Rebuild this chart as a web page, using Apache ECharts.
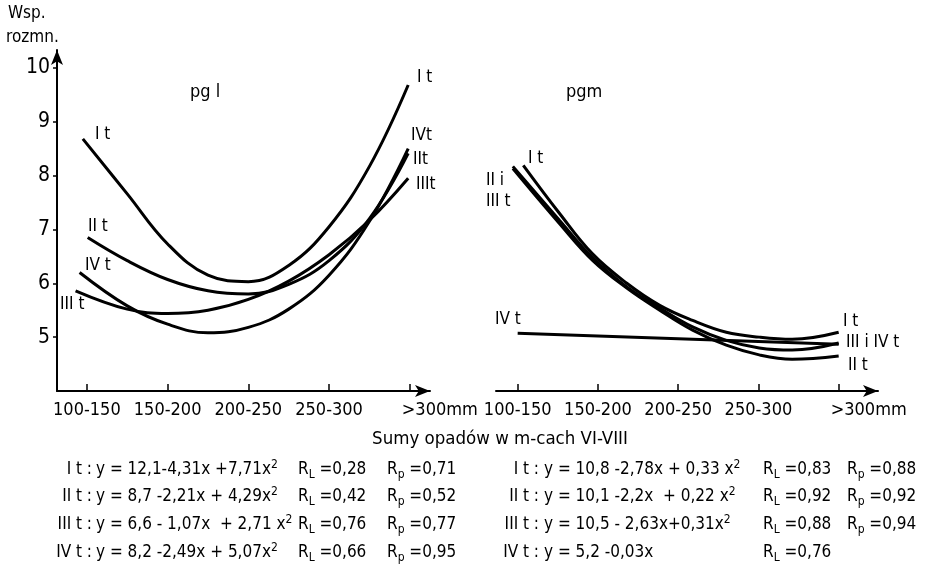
<!DOCTYPE html>
<html>
<head>
<meta charset="utf-8">
<script src="https://cdn.jsdelivr.net/npm/echarts@6/dist/echarts.min.js"></script>
<style>
  html, body { margin: 0; padding: 0; background: #fff; }
  #chart { width: 935px; height: 572px; }
</style>
</head>
<body>
<div id="chart"></div>
<script>
// rainfall classes on x, positions 0..4
const xLabels = ['100-150', '150-200', '200-250', '250-300', '>300mm']
const xTickPos = [0, 1, 2, 3, 4]
const yTicks = [5, 6, 7, 8, 9, 10]

// pg l curves, [class position, Wsp. rozmn.]
const pglI = [[-0.05, 8.68], [0.5, 7.66], [1.0, 6.73], [1.5, 6.15], [2.0, 6.03], [2.5, 6.33], [3.0, 7.05], [3.5, 8.17], [3.98, 9.68]]
const pglII = [[0.01, 6.85], [0.5, 6.42], [1.0, 6.07], [1.5, 5.86], [2.0, 5.8], [2.5, 5.98], [3.0, 6.42], [3.5, 7.2], [3.98, 8.41]]
const pglIII = [[-0.14, 5.86], [0.5, 5.52], [1.0, 5.44], [1.5, 5.5], [2.0, 5.7], [2.5, 6.04], [3.0, 6.53], [3.5, 7.17], [3.98, 7.95]]
const pglIV = [[-0.09, 6.2], [0.5, 5.58], [1.0, 5.24], [1.5, 5.08], [2.0, 5.18], [2.5, 5.52], [3.0, 6.15], [3.5, 7.15], [3.98, 8.5]]

// pgm curves
const pgmI = [[0.07, 8.19], [0.52, 7.3], [0.93, 6.55], [1.36, 6.0], [1.77, 5.59], [2.18, 5.31], [2.6, 5.09], [3.01, 5.0], [3.42, 4.96], [4.0, 5.09]]
const pgmII = [[-0.06, 8.13], [0.52, 7.11], [0.93, 6.43], [1.36, 5.91], [1.77, 5.5], [2.18, 5.13], [2.6, 4.85], [3.01, 4.67], [3.42, 4.59], [4.0, 4.65]]
const pgmIII = [[-0.06, 8.17], [0.52, 7.17], [0.93, 6.48], [1.36, 5.93], [1.77, 5.54], [2.18, 5.19], [2.6, 4.94], [3.01, 4.8], [3.42, 4.76], [4.0, 4.89]]
const pgmIV = [[0, 5.07], [4.0, 4.87]]

// regression equations under the chart
const eqNames = ['I t :', 'II t :', 'III t :', 'IV t :']
const eqLeft = ['y = 12,1-4,31x +7,71x', 'y = 8,7 -2,21x + 4,29x', 'y = 6,6 - 1,07x  + 2,71 x', 'y = 8,2 -2,49x + 5,07x']
const rlLeft = ['0,28', '0,42', '0,76', '0,66']
const rpLeft = ['0,71', '0,52', '0,77', '0,95']
const eqRight = ['y = 10,8 -2,78x + 0,33 x', 'y = 10,1 -2,2x  + 0,22 x', 'y = 10,5 - 2,63x+0,31x', 'y = 5,2 -0,03x']
const squaredRight = [true, true, true, false]
const rlRight = ['0,83', '0,92', '0,88', '0,76']
const rpRight = ['0,88', '0,92', '0,94', null]

const FONT = '"DejaVu Sans Condensed", "DejaVu Sans", sans-serif'

const chart = echarts.init(document.getElementById('chart'), null, { renderer: 'canvas' })

const axisLineStyle = { color: '#000', width: 2 }

function xAxisFor (gridIndex, min, max) {
  return {
    type: 'value',
    gridIndex,
    min,
    max,
    splitLine: { show: false },
    axisLine: {
      show: true,
      onZero: false,
      lineStyle: axisLineStyle,
      symbol: ['none', 'arrow'],
      symbolSize: [9, 15]
    },
    axisTick: {
      show: true,
      inside: true,
      length: 7,
      customValues: xTickPos,
      lineStyle: { color: '#000', width: 1.5 }
    },
    axisLabel: {
      customValues: xTickPos,
      color: '#000',
      fontFamily: FONT,
      fontSize: 18,
      margin: 10,
      formatter: (v) => {
        const label = xLabels[Math.round(v)]
        return v === 4 ? '{e|' + label + '}' : label
      },
      rich: {
        e: { fontFamily: FONT, fontSize: 18, padding: [0, 0, 0, 60] }
      }
    }
  }
}

function yAxisFor (gridIndex, show) {
  return {
    type: 'value',
    gridIndex,
    min: 4,
    max: 10.33,
    show,
    splitLine: { show: false },
    axisLine: {
      show: true,
      onZero: false,
      lineStyle: axisLineStyle,
      symbol: ['none', 'arrow'],
      symbolSize: [9, 15]
    },
    axisTick: {
      show: true,
      length: 4,
      customValues: yTicks,
      lineStyle: { color: '#000', width: 1.5 }
    },
    axisLabel: {
      customValues: yTicks,
      color: '#000',
      fontFamily: FONT,
      fontSize: 21,
      margin: 7
    }
  }
}

function curve (data, xAxisIndex) {
  return {
    type: 'line',
    xAxisIndex,
    yAxisIndex: xAxisIndex,
    data,
    smooth: 0.4,
    showSymbol: false,
    silent: true,
    lineStyle: { color: '#000', width: 3 }
  }
}

function txt (x, y, text, extra) {
  return {
    type: 'text',
    x,
    y,
    silent: true,
    style: Object.assign({
      text,
      fill: '#000',
      fontFamily: FONT,
      fontSize: 17,
      align: 'left',
      verticalAlign: 'middle'
    }, extra || {})
  }
}

const eqRich = {
  sup: { fontFamily: FONT, fontSize: 12, lineHeight: 11, verticalAlign: 'top' },
  sub: { fontFamily: FONT, fontSize: 12, lineHeight: 11, verticalAlign: 'bottom' }
}
const eqStyle = { lineHeight: 22, rich: eqRich }

const graphics = [
  txt(8, 14, 'Wsp.', { fontSize: 17 }),
  txt(6, 38, 'rozmn.', { fontSize: 17 }),
  txt(190, 92, 'pg l', { fontSize: 18 }),
  txt(566, 92, 'pgm', { fontSize: 18 }),
  // pg l curve names
  txt(417, 78, 'I t'),
  txt(95, 135, 'I t'),
  txt(88, 227, 'II t'),
  txt(85, 266, 'IV t'),
  txt(60, 305, 'III t'),
  txt(411, 136, 'IVt'),
  txt(413, 160, 'IIt'),
  txt(416, 185, 'IIIt'),
  // pgm curve names
  txt(528, 159, 'I t'),
  txt(486, 181, 'II i'),
  txt(486, 202, 'III t'),
  txt(495, 320, 'IV t'),
  txt(843, 322, 'I t'),
  txt(846, 343, 'III i IV t'),
  txt(848, 366, 'II t'),
  txt(500, 439, 'Sumy opadów w m-cach VI-VIII', { align: 'center', fontSize: 18.5 })
]

const rowY = [470, 497, 525, 553]
rowY.forEach((y, i) => {
  graphics.push(txt(92, y, eqNames[i], { align: 'right' }))
  graphics.push(txt(96, y, eqLeft[i] + '{sup|2}', eqStyle))
  graphics.push(txt(298, y, 'R{sub|L} =' + rlLeft[i], eqStyle))
  graphics.push(txt(387, y, 'R{sub|p} =' + rpLeft[i], eqStyle))

  graphics.push(txt(539, y, eqNames[i], { align: 'right' }))
  graphics.push(txt(544, y, eqRight[i] + (squaredRight[i] ? '{sup|2}' : ''), eqStyle))
  graphics.push(txt(763, y, 'R{sub|L} =' + rlRight[i], eqStyle))
  if (rpRight[i]) {
    graphics.push(txt(847, y, 'R{sub|p} =' + rpRight[i], eqStyle))
  }
})

chart.setOption({
  backgroundColor: '#fff',
  animation: false,
  grid: [
    { left: 57, top: 50, width: 373, height: 341 },
    { left: 496, top: 50, width: 382, height: 341 }
  ],
  xAxis: [
    xAxisFor(0, -0.37, 4.25),
    xAxisFor(1, -0.27, 4.49)
  ],
  yAxis: [
    yAxisFor(0, true),
    yAxisFor(1, false)
  ],
  series: [
    curve(pglI, 0),
    curve(pglII, 0),
    curve(pglIII, 0),
    curve(pglIV, 0),
    curve(pgmI, 1),
    curve(pgmII, 1),
    curve(pgmIII, 1),
    curve(pgmIV, 1)
  ],
  graphic: graphics
})
</script>
</body>
</html>
